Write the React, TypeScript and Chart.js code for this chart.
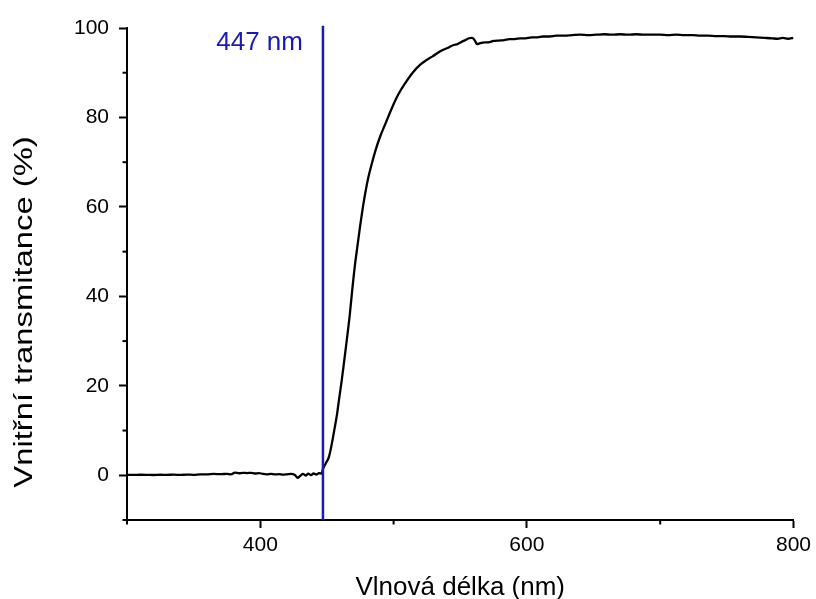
import React, { useEffect, useRef } from 'react';
import { Chart, registerables } from 'chart.js';

Chart.register(...registerables);

const wavelengths = [
  300, 305, 310, 315, 320, 325, 330, 335, 340, 345, 350, 355, 360, 365, 370, 375, 378, 381, 384, 387,
  390, 393, 396, 399, 402, 405, 408, 411, 414, 417, 420, 423, 426, 428, 430, 432, 434, 436, 438, 440,
  442, 444, 446, 447, 449, 451.5, 453.5, 455.5, 457.5, 459, 461, 463, 465, 467, 469, 471, 473, 475, 477, 479,
  481, 483.5, 486.5, 490, 494, 499, 504, 509, 514, 520, 525, 529, 535, 541, 545, 548, 551, 554, 556.5, 558.5,
  560, 561.3, 562.5, 565, 568, 571, 575, 579, 583, 587, 591, 595, 599, 603.5, 608, 612, 617, 622, 628, 634,
  640, 646, 652, 658, 664, 670, 676, 682, 688, 694, 700, 706, 712, 718, 724, 730, 736, 742, 748, 754,
  760, 766, 772, 778, 784, 788, 792, 796, 800,
];

const transmittance = [
  0.1, 0.08, 0.12, 0.1, 0.06, 0.12, 0.1, 0.14, 0.08, 0.16, 0.1, 0.22, 0.18, 0.3, 0.24, 0.32, 0.2, 0.58, 0.45, 0.55,
  0.48, 0.55, 0.4, 0.5, 0.3, 0.22, 0.32, 0.18, 0.26, 0.14, 0.22, 0.3, 0.05, -0.55, -0.1, 0.3, -0.05, 0.35, 0.05, 0.4,
  0.15, 0.45, 0.4, 1.4, 2.6, 4.1, 6.8, 10.1, 13.5, 16.8, 21.0, 25.7, 30.5, 35.5, 41.5, 47.0, 51.5, 56.0, 60.0, 63.5,
  66.5, 69.5, 72.7, 75.8, 78.7, 82.3, 85.4, 87.8, 89.9, 91.8, 92.9, 93.6, 94.8, 95.6, 96.2, 96.4, 96.9, 97.3, 97.7, 97.8,
  97.6, 97.0, 96.4, 96.6, 96.8, 96.8, 97.1, 97.2, 97.3, 97.5, 97.5, 97.7, 97.7, 97.9, 97.9, 98.1, 98.1, 98.3, 98.3, 98.4,
  98.5, 98.4, 98.5, 98.6, 98.5, 98.6, 98.5, 98.6, 98.5, 98.5, 98.5, 98.4, 98.5, 98.4, 98.4, 98.3, 98.3, 98.2, 98.2, 98.1,
  98.1, 98.0, 97.9, 97.8, 97.7, 97.6, 97.8, 97.6, 97.8,
];

const markerWavelength = 447;
const markerLabel = '447 nm';
const markerLabelLevel = 96.6;
const xTickValues = [400, 600, 800];
const xMinorTicks = [300, 500, 700];
const yTickValues = [0, 20, 40, 60, 80, 100];
const yMinorTicks = [-10, 10, 30, 50, 70, 90];
const xTitle = 'Vlnová délka (nm)';
const yTitle = 'Vnitřní transmitance (%)';

const FONT = '"Liberation Sans", Arial, sans-serif';
const BLUE = '#1a1ab8';

const extrasPlugin = {
  id: 'extras',
  afterDraw(chart: any) {
    const ctx = chart.ctx;
    const xs = chart.scales.x;
    const ys = chart.scales.y;
    ctx.save();
    ctx.strokeStyle = '#000';
    ctx.lineWidth = 2;
    xMinorTicks.forEach((v) => {
      const px = xs.getPixelForValue(v);
      ctx.beginPath();
      ctx.moveTo(px, ys.bottom);
      ctx.lineTo(px, ys.bottom + 4.5);
      ctx.stroke();
    });
    yMinorTicks.forEach((v) => {
      const py = ys.getPixelForValue(v);
      ctx.beginPath();
      ctx.moveTo(xs.left, py);
      ctx.lineTo(xs.left - 4.5, py);
      ctx.stroke();
    });
    ctx.fillStyle = BLUE;
    ctx.font = `26px ${FONT}`;
    ctx.textAlign = 'right';
    ctx.textBaseline = 'middle';
    ctx.fillText(markerLabel, xs.getPixelForValue(markerWavelength) - 20, ys.getPixelForValue(markerLabelLevel));

    ctx.translate(25, (ys.top + ys.bottom) / 2 + 38);
    ctx.rotate(-Math.PI / 2);
    ctx.scale(1.26, 1);
    ctx.fillStyle = '#000';
    ctx.textAlign = 'center';
    ctx.font = `26px ${FONT}`;
    ctx.fillText(yTitle, 0, 0);
    ctx.restore();
  },
};

export default function App() {
  const ref = useRef<HTMLCanvasElement | null>(null);
  useEffect(() => {
    if (!ref.current) return;
    const curve = wavelengths.map((w, i) => ({ x: w, y: transmittance[i] }));
    const marker = [
      { x: markerWavelength, y: -10 },
      { x: markerWavelength, y: 100.5 },
    ];
    const chart = new Chart(ref.current, {
      type: 'line',
      data: {
        datasets: [
          {
            data: marker,
            borderColor: BLUE,
            borderWidth: 2.5,
            pointRadius: 0,
            clip: false as any,
          },
          {
            data: curve,
            borderColor: '#000',
            borderWidth: 2.3,
            pointRadius: 0,
            cubicInterpolationMode: 'monotone',
          },
        ],
      },
      options: {
        animation: false,
        responsive: true,
        maintainAspectRatio: false,
        layout: { padding: { left: 0, top: 28, right: 20, bottom: 0 } },
        plugins: { legend: { display: false }, tooltip: { enabled: false } },
        scales: {
          x: {
            type: 'linear',
            min: 300,
            max: 800,
            afterFit: (s: any) => {
              s.height = 79;
            },
            afterBuildTicks: (s: any) => {
              s.ticks = xTickValues.map((v) => ({ value: v }));
            },
            ticks: {
              color: '#000',
              font: { family: FONT, size: 21 },
              padding: 5,
              maxRotation: 0,
              callback: (v: any) => String(v),
            },
            grid: { drawOnChartArea: false, drawTicks: true, tickLength: 8, tickWidth: 2, tickColor: '#000' },
            border: { display: true, color: '#000', width: 2 },
            title: {
              display: true,
              text: xTitle,
              color: '#000',
              font: { family: FONT, size: 26 },
              padding: { top: 0, bottom: -4 },
            },
          },
          y: {
            type: 'linear',
            min: -10,
            max: 100,
            afterFit: (s: any) => {
              s.width = 127;
            },
            afterBuildTicks: (s: any) => {
              s.ticks = yTickValues.map((v) => ({ value: v }));
            },
            ticks: {
              color: '#000',
              font: { family: FONT, size: 21 },
              padding: 10,
              callback: (v: any) => String(v),
            },
            grid: { drawOnChartArea: false, drawTicks: true, tickLength: 8, tickWidth: 2, tickColor: '#000' },
            border: { display: true, color: '#000', width: 2 },
            title: { display: false },
          },
        },
      },
      plugins: [extrasPlugin],
    });
    return () => chart.destroy();
  }, []);
  return (
    <div style={{ position: 'fixed', left: 0, top: 0, width: 816, height: 599, background: '#fff' }}>
      <canvas ref={ref} />
    </div>
  );
}
